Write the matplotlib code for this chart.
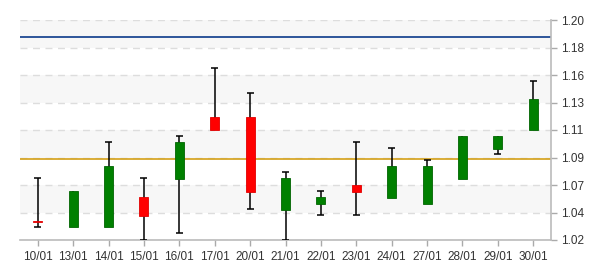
import numpy as np
import matplotlib
matplotlib.use("Agg")
import matplotlib.pyplot as plt

# Datos de las velas
dates = ["10/01", "13/01", "14/01", "15/01", "16/01", "17/01", "20/01", "21/01",
         "22/01", "23/01", "24/01", "27/01", "28/01", "29/01", "30/01"]
opens = [1.0356, 1.0304, 1.0304, 1.0552, 1.0702, 1.1206, 1.1206, 1.0448,
         1.0497, 1.0647, 1.0546, 1.0497, 1.0702, 1.0944, 1.1103]
closes = [1.0344, 1.0601, 1.0805, 1.0399, 1.1002, 1.1103, 1.0595, 1.0707,
          1.0552, 1.0595, 1.0805, 1.0805, 1.1051, 1.1051, 1.1351]
highs = [1.0705, 1.0601, 1.0999, 1.0705, 1.1048, 1.1605, 1.1400, 1.0754,
         1.0598, 1.1002, 1.0950, 1.0852, 1.1051, 1.1051, 1.1498]
lows = [1.0304, 1.0304, 1.0304, 1.0200, 1.0255, 1.1103, 1.0451, 1.0200,
        1.0402, 1.0402, 1.0546, 1.0497, 1.0702, 1.0901, 1.1103]

# Líneas de referencia
ref_levels = [1.1858, 1.0862]
ref_colors = ["#0b3a8a", "#d4a017"]

y_ticks = [1.02, 1.0425, 1.065, 1.0875, 1.11, 1.1325, 1.155, 1.1775, 1.20]
y_labels = ["1.02", "1.04", "1.07", "1.09", "1.11", "1.13", "1.16", "1.18", "1.20"]

plt.rcParams['font.family'] = ['Liberation Sans', 'DejaVu Sans']

fig = plt.figure(figsize=(6, 2.7), dpi=100)
ax = fig.add_axes([20 / 600, 30 / 270, 531 / 600, 220 / 270])

x = np.arange(len(dates))
ax.set_xlim(-0.5, len(dates) - 0.5)
ax.set_ylim(1.02, 1.20)

# Bandas alternas
for i in range(len(y_ticks) - 1):
    if i % 2 == 1:
        ax.axhspan(y_ticks[i], y_ticks[i + 1], color="#f7f7f7", zorder=0, lw=0)
for t in y_ticks:
    ax.axhline(t, color="#dddddd", lw=1, ls=(0, (5, 4)), zorder=1)

o = np.array(opens)
c = np.array(closes)
h = np.array(highs)
l = np.array(lows)
top = np.maximum(o, c)
bot = np.minimum(o, c)

# Mechas (las tapas solo si sobresalen del cuerpo)
ax.vlines(x, l, h, color="black", lw=1.1, zorder=3)
m = h > top + 1e-6
ax.hlines(h[m], x[m] - 0.1, x[m] + 0.1, color="black", lw=1.1, zorder=3)
m = l < bot - 1e-6
ax.hlines(l[m], x[m] - 0.1, x[m] + 0.1, color="black", lw=1.1, zorder=3)

# Cuerpos
up = c >= o
colors = np.where(up, "#008000", "#ff0000")
edges = np.where(up, "#006400", "#e00000")
ax.bar(x, top - bot, bottom=bot, width=0.25,
       color=colors, edgecolor=edges, lw=0.6, zorder=4)

for lvl, col in zip(ref_levels, ref_colors):
    ax.axhline(lvl, color=col, lw=1.2, zorder=2)

ax.set_xticks(x)
ax.set_xticklabels(dates)
ax.yaxis.tick_right()
ax.set_yticks(y_ticks)
ax.set_yticklabels(y_labels)
ax.tick_params(axis="both", colors="#aaaaaa", labelcolor="#333333",
               labelsize=8.5, length=4, width=1)
ax.tick_params(axis="x", pad=4)
ax.tick_params(axis="y", pad=3)

for side in ["top", "left"]:
    ax.spines[side].set_visible(False)
for side in ["bottom", "right"]:
    ax.spines[side].set_color("#bbbbbb")
    ax.spines[side].set_linewidth(1.2)

fig.savefig("out.png", dpi=100)
